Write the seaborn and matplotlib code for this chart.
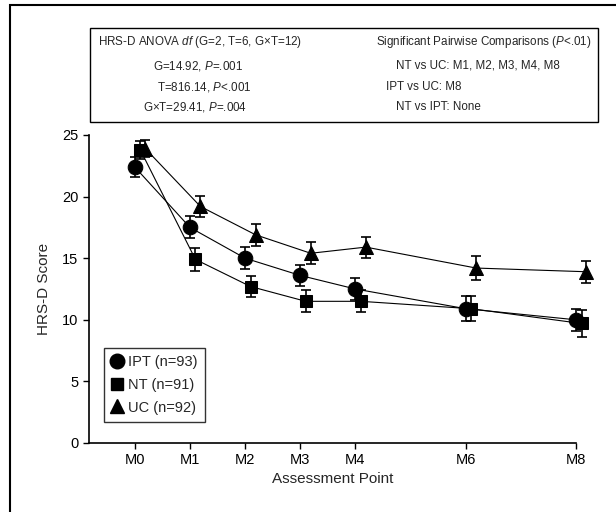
import matplotlib
matplotlib.use("Agg")
import matplotlib.pyplot as plt
from matplotlib.patches import Rectangle
from matplotlib.lines import Line2D
import seaborn as sns
import pandas as pd

# assessment points (months) and their labels
months = [0, 1, 2, 3, 4, 6, 8]
tick_labels = ["M0", "M1", "M2", "M3", "M4", "M6", "M8"]

# mean HRS-D score and error per group
ipt_mean = [22.4, 17.5, 15.0, 13.6, 12.5, 10.9, 10.0]
ipt_err = [0.8, 0.9, 0.9, 0.85, 0.9, 1.0, 0.9]
nt_mean = [23.8, 14.9, 12.7, 11.5, 11.5, 10.9, 9.7]
nt_err = [0.75, 0.9, 0.85, 0.9, 0.9, 1.0, 1.1]
uc_mean = [23.9, 19.2, 16.9, 15.4, 15.9, 14.2, 13.9]
uc_err = [0.7, 0.85, 0.9, 0.9, 0.85, 0.95, 0.9]

groups = ["IPT", "NT", "UC"]
legend_labels = ["IPT (n=93)", "NT (n=91)", "UC (n=92)"]

anova_lines = ["HRS-D ANOVA $df$ (G=2, T=6, G\u00d7T=12)",
               "G=14.92, $P$=.001",
               "T=816.14, $P$<.001",
               "G\u00d7T=29.41, $P$=.004"]
pair_lines = ["Significant Pairwise Comparisons ($P$<.01)",
              "NT vs UC: M1, M2, M3, M4, M8",
              "IPT vs UC: M8",
              "NT vs IPT: None"]

frames = []
for g, m, e in zip(groups, [ipt_mean, nt_mean, uc_mean], [ipt_err, nt_err, uc_err]):
    frames.append(pd.DataFrame({"group": g, "month": months, "score": m, "err": e}))
df = pd.concat(frames, ignore_index=True)

sns.set_style("ticks")
plt.rcParams["font.family"] = ["Liberation Sans", "DejaVu Sans"]
plt.rcParams["mathtext.fontset"] = "custom"
plt.rcParams["mathtext.rm"] = "Liberation Sans"
plt.rcParams["mathtext.it"] = "Liberation Sans:italic"

W, H = 616, 512
fig = plt.figure(figsize=(W / 100, H / 100), dpi=100)
ax = fig.add_axes([89 / W, 1 - 443 / H, (576 - 89) / W, (443 - 135) / H])

styles = {"IPT": ("o", 10.5, 0.0), "NT": ("s", 9, 0.10), "UC": ("^", 10.5, 0.19)}
for g in groups:
    sub = df[df["group"] == g].copy()
    mk, ms, off = styles[g]
    sub["x"] = sub["month"] + off
    ax.errorbar(sub["x"], sub["score"], yerr=sub["err"], fmt="none",
                ecolor="black", elinewidth=1.2, capsize=3.5, capthick=1.2,
                clip_on=False, zorder=2)
    sns.lineplot(data=sub, x="x", y="score", ax=ax, color="black",
                 linewidth=0.8, marker=mk, markersize=ms,
                 markeredgecolor="black", markerfacecolor="black",
                 clip_on=False, zorder=3, legend=False)

ax.set_xlim(-0.83, 8)
ax.set_ylim(0, 25)
ax.set_xticks(months)
ax.set_xticklabels(tick_labels)
ax.set_yticks([0, 5, 10, 15, 20, 25])
ax.tick_params(labelsize=10.5, width=1, length=4, colors="black")
ax.set_xlabel("Assessment Point", fontsize=11, labelpad=3)
ax.set_ylabel("HRS-D Score", fontsize=11, labelpad=8)
sns.despine(ax=ax)
for s in ["left", "bottom"]:
    ax.spines[s].set_linewidth(1.2)
    ax.spines[s].set_color("black")

handles = [Line2D([], [], linestyle="none", marker=styles[g][0],
                  markersize=styles[g][1], color="black") for g in groups]
leg = ax.legend(handles, legend_labels, loc="lower left",
                bbox_to_anchor=(0.015, 0.045), fontsize=10.5, frameon=True,
                fancybox=False, edgecolor="black", handlelength=0.8,
                handletextpad=0.4, labelspacing=0.6, borderpad=0.5)
leg.get_frame().set_linewidth(1)

# statistics box above the plot
fig.add_artist(Rectangle((90 / W, 1 - 122 / H), (598 - 90) / W, (122 - 28) / H,
                         transform=fig.transFigure, fill=False,
                         edgecolor="black", linewidth=1))
left_x = [98, 153, 157, 143]
right_x = [376, 396, 386, 396]
rows_y = [42, 66, 87, 107]
for t, x, y in zip(anova_lines, left_x, rows_y):
    fig.text(x / W, 1 - y / H, t, fontsize=8.4, ha="left", va="center")
for t, x, y in zip(pair_lines, right_x, rows_y):
    fig.text(x / W, 1 - y / H, t, fontsize=8.4, ha="left", va="center")

# outer frame (left and top edges visible)
fig.add_artist(Rectangle((10 / W, -0.5), 1.5, 1.5 - 5 / H,
                         transform=fig.transFigure, fill=False,
                         edgecolor="black", linewidth=1.5))

fig.savefig("out.png", dpi=100, facecolor="white")
